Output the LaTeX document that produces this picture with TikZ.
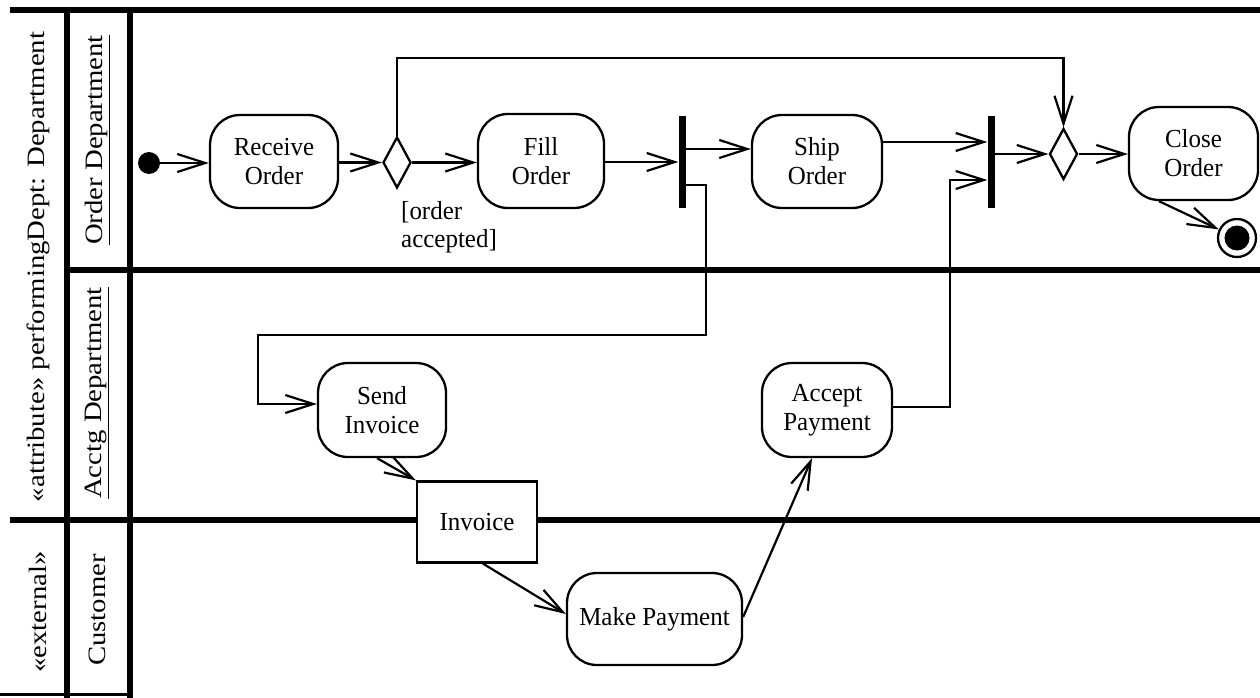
\documentclass[tikz,border=0pt]{standalone}
\usepackage{fontspec}
\setmainfont[FakeStretch=0.96]{Liberation Serif}
\newfontfamily\lanefont[FakeStretch=1.15]{Liberation Serif}
\usetikzlibrary{arrows.meta,shapes.geometric}
\begin{document}
\begin{tikzpicture}[x=1pt,y=-1pt,
  lane/.style={line width=6pt},
  lanelabel/.style={rotate=90,inner sep=0pt,font=\lanefont\fontsize{25}{30}\selectfont},
  act/.style={draw,line width=2.3pt,rounded corners=30pt,align=center,inner sep=0pt,fill=white,
    font=\fontsize{26}{29}\selectfont},
  obj/.style={draw,line width=2.3pt,fill=white,inner sep=0pt,font=\fontsize{26}{29}\selectfont,
    minimum width=120pt,minimum height=81pt},
  dec/.style={draw,diamond,line width=2.3pt,minimum width=28pt,minimum height=51pt,inner sep=0pt,fill=white},
  bar/.style={fill=black,minimum width=7pt,minimum height=92pt,inner sep=0pt},
  conn/.style={line width=2.2pt},
  arr/.style={line width=2.2pt,-{Straight Barb[length=28pt,width=18pt]}},
  lbl/.style={inner sep=0pt,align=left,font=\fontsize{26}{28}\selectfont}]
\useasboundingbox (0,0) rectangle (1260,698);

% swimlane frame
\draw[lane] (10,10) -- (1260,10);
\draw[lane] (67,10) -- (67,698);
\draw[lane] (130,10) -- (130,698);
\draw[lane] (67,270) -- (1260,270);
\draw[lane] (10,520) -- (1260,520);
\draw[line width=3pt] (0,694) -- (130,694);

% lane labels
\node[lanelabel] (pd) at (38,267) {«attribute» performingDept: Department};
\node[lanelabel] (ext) at (38,612) {«external»};
\node[lanelabel] (od) at (97,140) {\underline{Order Department}};
\node[lanelabel] (ad) at (97,393) {\underline{Acctg Department}};
\node[lanelabel] (cu) at (97,610) {Customer};

% nodes
\node[circle,fill=black,minimum size=22pt,inner sep=0pt] (init) at (149,163) {};
\node[act,minimum width=128pt,minimum height=93pt] (recv) at (274,161.5) {Receive\\Order};
\node[dec] (dec1) at (397,162.5) {};
\node[lbl,anchor=north west] (guard) at (401,201) {[order\\accepted]};
\node[act,minimum width=126pt,minimum height=94pt] (fill) at (541,161) {Fill\\Order};
\node[bar] (fork) at (682,162) {};
\node[act,minimum width=130pt,minimum height=93pt] (ship) at (817,161.5) {Ship\\Order};
\node[bar] (join) at (991,162) {};
\node[dec] (dec2) at (1063.5,154) {};
\node[act,minimum width=129pt,minimum height=93pt] (close) at (1193.5,153.5) {Close\\Order};
\node[circle,draw,line width=2.3pt,minimum size=38pt,inner sep=0pt,
  path picture={\fill (path picture bounding box.center) circle (12.5pt);}] (final) at (1237,238) {};
\node[act,minimum width=128pt,minimum height=94pt] (send) at (382,410) {Send\\Invoice};
\node[act,minimum width=130pt,minimum height=94pt] (accept) at (827,410) {Accept\\Payment};
\node[obj] (inv) at (477,522) {Invoice};
\node[act,minimum width=175pt,minimum height=92pt] (make) at (654.5,619) {Make Payment};

% connectors
\draw[arr] (init) -- (recv.west |- init);
\draw[arr] (recv.east |- dec1) -- (dec1.west);
\draw[arr] (dec1.east) -- (fill.west |- dec1.east);
\draw[arr] (fill.east |- fork) -- (fork.west);
\draw[arr] ([yshift=13pt]fork.east) -- ([yshift=13pt]fork.east -| ship.west);
\draw[arr] ([yshift=-23pt]fork.east) -- (706,185) -- (706,335) -- (258,335) -- (258,404) -- ([yshift=6pt]send.west);
\draw[arr] ([yshift=19.5pt]ship.east) -- ([yshift=19.5pt]ship.east -| join.west);
\draw[arr] ([yshift=3pt]accept.east) -- (950,407) -- (950,180) -- ([yshift=-18pt]join.west);
\draw[arr] ([yshift=8pt]join.east) -- (dec2.west);
\draw[arr] (dec1.north) -- (397,58) -- (1063.5,58) -- (dec2.north);
\draw[arr] (dec2.east) -- (close.west |- dec2.east);
\draw[arr] ([xshift=31pt]close.south west) -- (final);
\draw[arr] ([xshift=-5pt]send.south) -- (inv.north west);
\draw[arr] ([xshift=6pt]inv.south) -- ([yshift=5pt]make.west);
\draw[arr] ([yshift=2pt]make.east) -- ([xshift=-15pt]accept.south);
\end{tikzpicture}
\end{document}
